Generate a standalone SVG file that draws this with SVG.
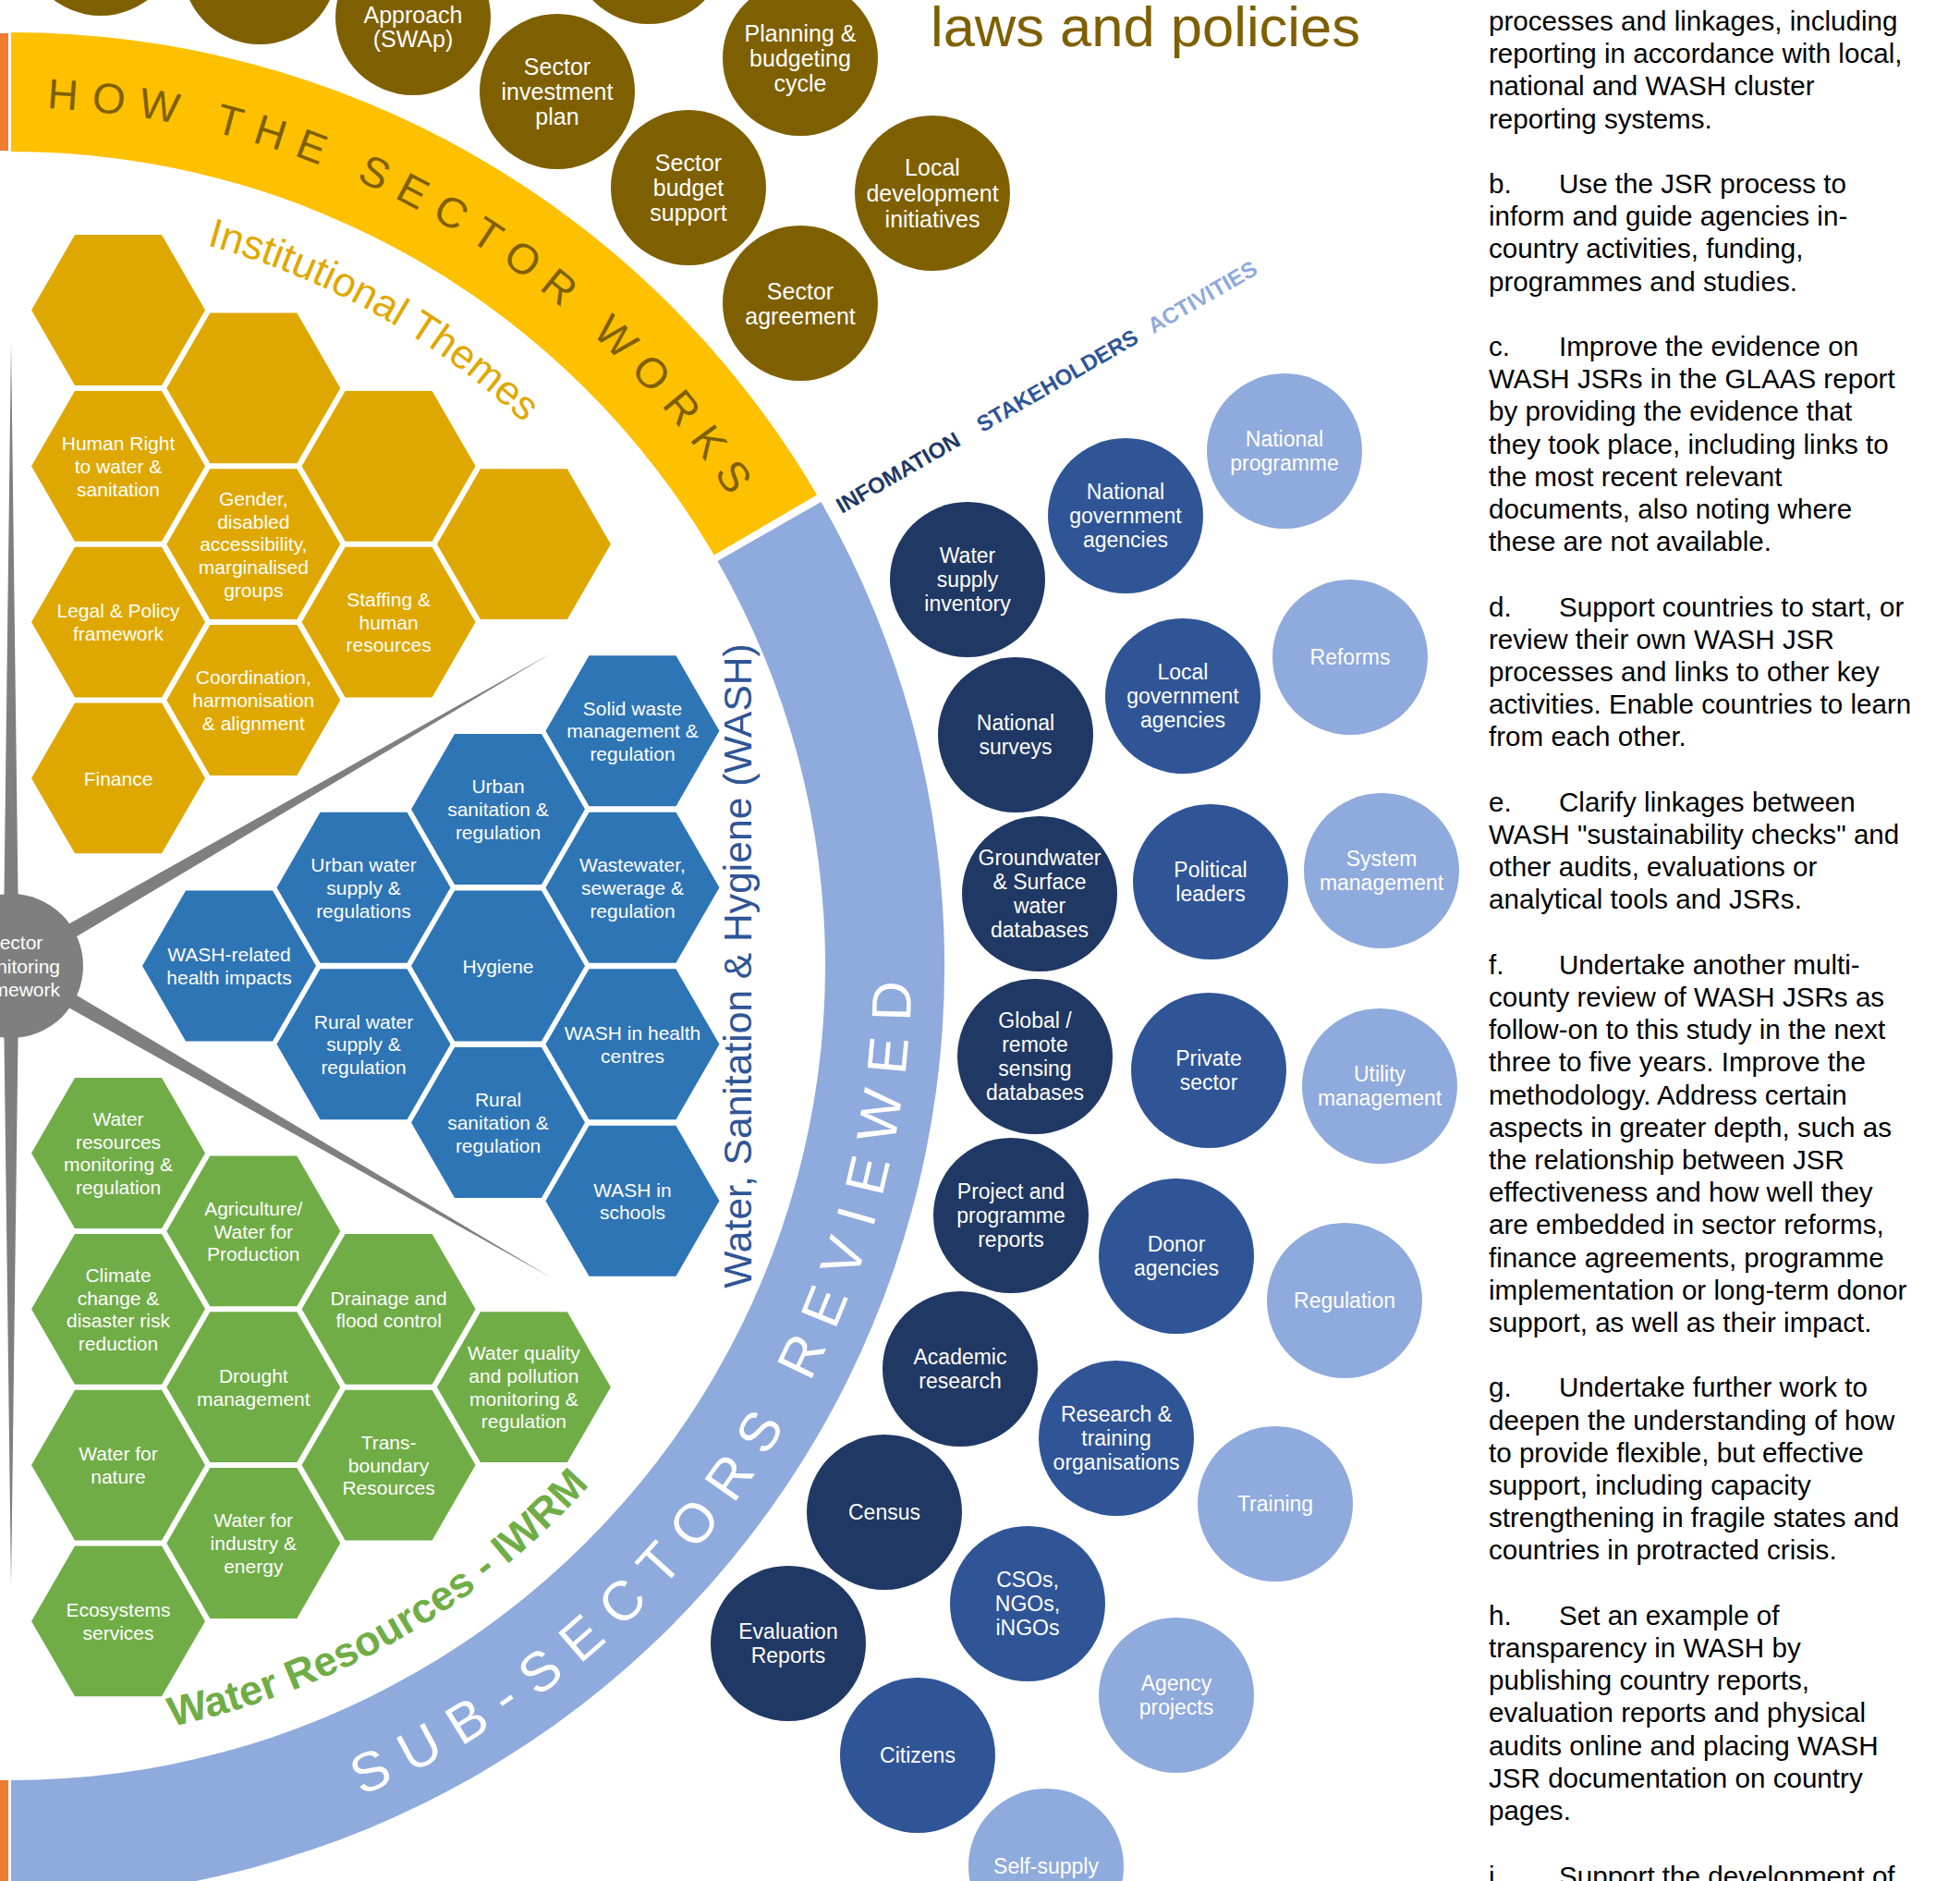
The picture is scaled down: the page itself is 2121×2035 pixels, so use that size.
<svg xmlns="http://www.w3.org/2000/svg" width="2121" height="2035" viewBox="0 0 2121 2035">
<style>
text{font-family:"Liberation Sans",Arial,Helvetica,sans-serif}
.br{fill:#7F6000}
.bt{fill:#fff;font-size:25px;text-anchor:middle}
.hy{fill:#DFA800}
.hb{fill:#2E75B6}
.hg{fill:#70AD47}
.ht{fill:#fff;font-size:21px;text-anchor:middle}
.cd{fill:#203864}
.cm{fill:#2F5597}
.cl{fill:#8FAADC}
.ct{fill:#fff;font-size:23px;text-anchor:middle}
.rt{fill:#000;font-size:29.6px}
.sp{fill:#7F7F7F}
</style>
<defs>
<polygon id="hx" points="94,0 47,81.4 -47,81.4 -94,0 -47,-81.4 47,-81.4"/>
<path id="howPath" d="M12,116.5 A928.5,928.5 0 0,1 816.1,580.75" fill="none"/>
<path id="instPath" d="M12,237 A808,808 0 0,1 711.7,641" fill="none"/>
<path id="subPath" d="M12,2019.5 A974.5,974.5 0 0,0 855.9,557.75" fill="none"/>
<path id="iwrmPath" d="M12,1886 A841,841 0 0,0 740.3,624.5" fill="none"/>
</defs>
<rect width="2121" height="2035" fill="#fff"/>

<g id="bands">
<rect x="0" y="36" width="9" height="127" fill="#ED7D31"/>
<rect x="0" y="1926" width="9" height="109" fill="#ED7D31"/>
<path d="M12,35 A1010,1010 0 0,1 884,535.4 L772.7,600.5 A881,881 0 0,0 12,164 Z" fill="#FFC000"/>
<path d="M888.5,543 A1010,1010 0 0,1 12,2055 L12,1926 A881,881 0 0,0 776.5,607.1 Z" fill="#8FAADC"/>
<text font-size="46" fill="#7F6000" letter-spacing="14.5"><textPath href="#howPath" startOffset="38.6">HOW THE SECTOR WORKS</textPath></text>
<text font-size="60" fill="#fff" letter-spacing="18.7"><textPath href="#subPath" startOffset="389">SUB-SECTORS REVIEWED</textPath></text>
</g>

<g id="labels">
<text x="1007" y="50" font-size="61.5" fill="#7F6000">laws and policies</text>
<text font-size="44.5" fill="#DFA800"><textPath href="#instPath" startOffset="214">Institutional Themes</textPath></text>
<text font-size="45" font-weight="bold" fill="#70AD47"><textPath href="#iwrmPath" startOffset="175">Water Resources - IWRM</textPath></text>
<text transform="translate(813,1045) rotate(-90)" text-anchor="middle" font-size="42.6" fill="#2F5597">Water, Sanitation &amp; Hygiene (WASH)</text>
<text transform="translate(911,556) rotate(-30)" font-size="24" font-weight="bold" fill="#203864">INFOMATION</text>
<text transform="translate(1063,468.2) rotate(-30)" font-size="24" font-weight="bold" fill="#2F5597">STAKEHOLDERS</text>
<text transform="translate(1248,361.4) rotate(-30)" font-size="24" font-weight="bold" fill="#8FAADC">ACTIVITIES</text>
</g>

<g id="connectors">
<polygon class="sp" points="12,370 20.5,1045 3.5,1045"/>
<polygon class="sp" points="12,1717 20.5,1045 3.5,1045"/>
<polygon class="sp" points="596,707 16.5,1052.8 7.5,1037.2"/>
<polygon class="sp" points="596,1382 7.5,1052.8 16.5,1037.2"/>
</g>

<g id="monitoring">
<circle cx="12" cy="1045" r="78" fill="#7F7F7F"/>
<text class="ht" x="16" y="1027"><tspan x="16">Sector</tspan><tspan x="16" dy="25.5">monitoring</tspan><tspan x="16" dy="25.5">framework</tspan></text>
</g>

<g id="brown-circles">
<g id="b1"><circle class="br" cx="109" cy="-67" r="84"/></g>
<g id="b2"><circle class="br" cx="281" cy="-36" r="84"/></g>
<g id="b3"><circle class="br" cx="447" cy="19" r="84"/><text class="bt" y="25"><tspan x="447">Approach</tspan><tspan x="447" y="51">(SWAp)</tspan></text></g>
<g id="b4"><circle class="br" cx="702" cy="-58" r="84"/></g>
<g id="b5"><circle class="br" cx="866" cy="63" r="84"/><text class="bt" y="45"><tspan x="866">Planning &amp;</tspan><tspan x="866" dy="27">budgeting</tspan><tspan x="866" dy="27">cycle</tspan></text></g>
<g id="b6"><circle class="br" cx="603" cy="99" r="84"/><text class="bt" y="81"><tspan x="603">Sector</tspan><tspan x="603" dy="27">investment</tspan><tspan x="603" dy="27">plan</tspan></text></g>
<g id="b7"><circle class="br" cx="745" cy="203" r="84"/><text class="bt" y="185"><tspan x="745">Sector</tspan><tspan x="745" dy="27">budget</tspan><tspan x="745" dy="27">support</tspan></text></g>
<g id="b8"><circle class="br" cx="866" cy="328" r="84"/><text class="bt" y="323.5"><tspan x="866">Sector</tspan><tspan x="866" dy="27">agreement</tspan></text></g>
<g id="b9"><circle class="br" cx="1009" cy="209" r="84"/><text class="bt" y="190"><tspan x="1009">Local</tspan><tspan x="1009" dy="28">development</tspan><tspan x="1009" dy="28">initiatives</tspan></text></g>
</g>

<g id="institutional-hexes">
<g id="y1"><use href="#hx" class="hy" x="128" y="335.5"/></g>
<g id="y2"><use href="#hx" class="hy" x="128" y="504.3"/><text class="ht" y="487.2"><tspan x="128">Human Right</tspan><tspan x="128" dy="24.7">to water &amp;</tspan><tspan x="128" dy="24.7">sanitation</tspan></text></g>
<g id="y3"><use href="#hx" class="hy" x="128" y="673.1"/><text class="ht" y="668.35"><tspan x="128">Legal &amp; Policy</tspan><tspan x="128" dy="24.7">framework</tspan></text></g>
<g id="y4"><use href="#hx" class="hy" x="128" y="841.9"/><text class="ht" x="128" y="849.5">Finance</text></g>
<g id="y5"><use href="#hx" class="hy" x="274.3" y="419.9"/></g>
<g id="y6"><use href="#hx" class="hy" x="274.3" y="588.7"/><text class="ht" y="546.9"><tspan x="274.3">Gender,</tspan><tspan x="274.3" dy="24.7">disabled</tspan><tspan x="274.3" dy="24.7">accessibility,</tspan><tspan x="274.3" dy="24.7">marginalised</tspan><tspan x="274.3" dy="24.7">groups</tspan></text></g>
<g id="y7"><use href="#hx" class="hy" x="274.3" y="757.5"/><text class="ht" y="740.4"><tspan x="274.3">Coordination,</tspan><tspan x="274.3" dy="24.7">harmonisation</tspan><tspan x="274.3" dy="24.7">&amp; alignment</tspan></text></g>
<g id="y8"><use href="#hx" class="hy" x="420.6" y="504.3"/></g>
<g id="y9"><use href="#hx" class="hy" x="420.6" y="673.1"/><text class="ht" y="656"><tspan x="420.6">Staffing &amp;</tspan><tspan x="420.6" dy="24.7">human</tspan><tspan x="420.6" dy="24.7">resources</tspan></text></g>
<g id="y10"><use href="#hx" class="hy" x="566.9" y="588.7"/></g>
</g>

<g id="wash-hexes">
<g id="w1"><use href="#hx" class="hb" x="248" y="1045"/><text class="ht" y="1040.25"><tspan x="248">WASH-related</tspan><tspan x="248" dy="24.7">health impacts</tspan></text></g>
<g id="w2"><use href="#hx" class="hb" x="393.5" y="960.25"/><text class="ht" y="943.15"><tspan x="393.5">Urban water</tspan><tspan x="393.5" dy="24.7">supply &amp;</tspan><tspan x="393.5" dy="24.7">regulations</tspan></text></g>
<g id="w3"><use href="#hx" class="hb" x="393.5" y="1129.75"/><text class="ht" y="1112.65"><tspan x="393.5">Rural water</tspan><tspan x="393.5" dy="24.7">supply &amp;</tspan><tspan x="393.5" dy="24.7">regulation</tspan></text></g>
<g id="w4"><use href="#hx" class="hb" x="539" y="875.5"/><text class="ht" y="858.4"><tspan x="539">Urban</tspan><tspan x="539" dy="24.7">sanitation &amp;</tspan><tspan x="539" dy="24.7">regulation</tspan></text></g>
<g id="w5"><use href="#hx" class="hb" x="539" y="1045"/><text class="ht" x="539" y="1052.6">Hygiene</text></g>
<g id="w6"><use href="#hx" class="hb" x="539" y="1214.5"/><text class="ht" y="1197.4"><tspan x="539">Rural</tspan><tspan x="539" dy="24.7">sanitation &amp;</tspan><tspan x="539" dy="24.7">regulation</tspan></text></g>
<g id="w7"><use href="#hx" class="hb" x="684.5" y="790.75"/><text class="ht" y="773.65"><tspan x="684.5">Solid waste</tspan><tspan x="684.5" dy="24.7">management &amp;</tspan><tspan x="684.5" dy="24.7">regulation</tspan></text></g>
<g id="w8"><use href="#hx" class="hb" x="684.5" y="960.25"/><text class="ht" y="943.15"><tspan x="684.5">Wastewater,</tspan><tspan x="684.5" dy="24.7">sewerage &amp;</tspan><tspan x="684.5" dy="24.7">regulation</tspan></text></g>
<g id="w9"><use href="#hx" class="hb" x="684.5" y="1129.75"/><text class="ht" y="1125"><tspan x="684.5">WASH in health</tspan><tspan x="684.5" dy="24.7">centres</tspan></text></g>
<g id="w10"><use href="#hx" class="hb" x="684.5" y="1299.25"/><text class="ht" y="1294.5"><tspan x="684.5">WASH in</tspan><tspan x="684.5" dy="24.7">schools</tspan></text></g>
</g>

<g id="iwrm-hexes">
<g id="g1"><use href="#hx" class="hg" x="128" y="1247.5"/><text class="ht" y="1218.05"><tspan x="128">Water</tspan><tspan x="128" dy="24.7">resources</tspan><tspan x="128" dy="24.7">monitoring &amp;</tspan><tspan x="128" dy="24.7">regulation</tspan></text></g>
<g id="g2"><use href="#hx" class="hg" x="274.3" y="1331.9"/><text class="ht" y="1314.8"><tspan x="274.3">Agriculture/</tspan><tspan x="274.3" dy="24.7">Water for</tspan><tspan x="274.3" dy="24.7">Production</tspan></text></g>
<g id="g3"><use href="#hx" class="hg" x="128" y="1416.3"/><text class="ht" y="1386.85"><tspan x="128">Climate</tspan><tspan x="128" dy="24.7">change &amp;</tspan><tspan x="128" dy="24.7">disaster risk</tspan><tspan x="128" dy="24.7">reduction</tspan></text></g>
<g id="g4"><use href="#hx" class="hg" x="420.6" y="1416.3"/><text class="ht" y="1411.55"><tspan x="420.6">Drainage and</tspan><tspan x="420.6" dy="24.7">flood control</tspan></text></g>
<g id="g5"><use href="#hx" class="hg" x="274.3" y="1500.7"/><text class="ht" y="1495.95"><tspan x="274.3">Drought</tspan><tspan x="274.3" dy="24.7">management</tspan></text></g>
<g id="g6"><use href="#hx" class="hg" x="566.9" y="1500.7"/><text class="ht" y="1471.25"><tspan x="566.9">Water quality</tspan><tspan x="566.9" dy="24.7">and pollution</tspan><tspan x="566.9" dy="24.7">monitoring &amp;</tspan><tspan x="566.9" dy="24.7">regulation</tspan></text></g>
<g id="g7"><use href="#hx" class="hg" x="128" y="1585.1"/><text class="ht" y="1580.35"><tspan x="128">Water for</tspan><tspan x="128" dy="24.7">nature</tspan></text></g>
<g id="g8"><use href="#hx" class="hg" x="420.6" y="1585.1"/><text class="ht" y="1568"><tspan x="420.6">Trans-</tspan><tspan x="420.6" dy="24.7">boundary</tspan><tspan x="420.6" dy="24.7">Resources</tspan></text></g>
<g id="g9"><use href="#hx" class="hg" x="274.3" y="1669.5"/><text class="ht" y="1652.4"><tspan x="274.3">Water for</tspan><tspan x="274.3" dy="24.7">industry &amp;</tspan><tspan x="274.3" dy="24.7">energy</tspan></text></g>
<g id="g10"><use href="#hx" class="hg" x="128" y="1753.9"/><text class="ht" y="1749.15"><tspan x="128">Ecosystems</tspan><tspan x="128" dy="24.7">services</tspan></text></g>
</g>

<g id="information-circles">
<g id="i1"><circle class="cd" cx="1047" cy="627" r="84"/><text class="ct" y="609.3"><tspan x="1047">Water</tspan><tspan x="1047" dy="26">supply</tspan><tspan x="1047" dy="26">inventory</tspan></text></g>
<g id="i2"><circle class="cd" cx="1099" cy="795" r="84"/><text class="ct" y="790.3"><tspan x="1099">National</tspan><tspan x="1099" dy="26">surveys</tspan></text></g>
<g id="i3"><circle class="cd" cx="1125" cy="967" r="84"/><text class="ct" y="936.3"><tspan x="1125">Groundwater</tspan><tspan x="1125" dy="26">&amp; Surface</tspan><tspan x="1125" dy="26">water</tspan><tspan x="1125" dy="26">databases</tspan></text></g>
<g id="i4"><circle class="cd" cx="1120" cy="1143" r="84"/><text class="ct" y="1112.3"><tspan x="1120">Global /</tspan><tspan x="1120" dy="26">remote</tspan><tspan x="1120" dy="26">sensing</tspan><tspan x="1120" dy="26">databases</tspan></text></g>
<g id="i5"><circle class="cd" cx="1094" cy="1315" r="84"/><text class="ct" y="1297.3"><tspan x="1094">Project and</tspan><tspan x="1094" dy="26">programme</tspan><tspan x="1094" dy="26">reports</tspan></text></g>
<g id="i6"><circle class="cd" cx="1039" cy="1481" r="84"/><text class="ct" y="1476.3"><tspan x="1039">Academic</tspan><tspan x="1039" dy="26">research</tspan></text></g>
<g id="i7"><circle class="cd" cx="957" cy="1636" r="84"/><text class="ct" x="957" y="1644.3">Census</text></g>
<g id="i8"><circle class="cd" cx="853" cy="1778" r="84"/><text class="ct" y="1773.3"><tspan x="853">Evaluation</tspan><tspan x="853" dy="26">Reports</tspan></text></g>
</g>

<g id="stakeholder-circles">
<g id="s1"><circle class="cm" cx="1218" cy="558" r="84"/><text class="ct" y="540.3"><tspan x="1218">National</tspan><tspan x="1218" dy="26">government</tspan><tspan x="1218" dy="26">agencies</tspan></text></g>
<g id="s2"><circle class="cm" cx="1280" cy="753" r="84"/><text class="ct" y="735.3"><tspan x="1280">Local</tspan><tspan x="1280" dy="26">government</tspan><tspan x="1280" dy="26">agencies</tspan></text></g>
<g id="s3"><circle class="cm" cx="1310" cy="954" r="84"/><text class="ct" y="949.3"><tspan x="1310">Political</tspan><tspan x="1310" dy="26">leaders</tspan></text></g>
<g id="s4"><circle class="cm" cx="1308" cy="1158" r="84"/><text class="ct" y="1153.3"><tspan x="1308">Private</tspan><tspan x="1308" dy="26">sector</tspan></text></g>
<g id="s5"><circle class="cm" cx="1273" cy="1359" r="84"/><text class="ct" y="1354.3"><tspan x="1273">Donor</tspan><tspan x="1273" dy="26">agencies</tspan></text></g>
<g id="s6"><circle class="cm" cx="1208" cy="1556" r="84"/><text class="ct" y="1538.3"><tspan x="1208">Research &amp;</tspan><tspan x="1208" dy="26">training</tspan><tspan x="1208" dy="26">organisations</tspan></text></g>
<g id="s7"><circle class="cm" cx="1112" cy="1735" r="84"/><text class="ct" y="1717.3"><tspan x="1112">CSOs,</tspan><tspan x="1112" dy="26">NGOs,</tspan><tspan x="1112" dy="26">iNGOs</tspan></text></g>
<g id="s8"><circle class="cm" cx="993" cy="1899" r="84"/><text class="ct" x="993" y="1907.3">Citizens</text></g>
</g>

<g id="activity-circles">
<g id="a1"><circle class="cl" cx="1390" cy="488" r="84"/><text class="ct" y="483.3"><tspan x="1390">National</tspan><tspan x="1390" dy="26">programme</tspan></text></g>
<g id="a2"><circle class="cl" cx="1461" cy="711" r="84"/><text class="ct" x="1461" y="719.3">Reforms</text></g>
<g id="a3"><circle class="cl" cx="1495" cy="942" r="84"/><text class="ct" y="937.3"><tspan x="1495">System</tspan><tspan x="1495" dy="26">management</tspan></text></g>
<g id="a4"><circle class="cl" cx="1493" cy="1175" r="84"/><text class="ct" y="1170.3"><tspan x="1493">Utility</tspan><tspan x="1493" dy="26">management</tspan></text></g>
<g id="a5"><circle class="cl" cx="1455" cy="1407" r="84"/><text class="ct" x="1455" y="1415.3">Regulation</text></g>
<g id="a6"><circle class="cl" cx="1380" cy="1627" r="84"/><text class="ct" x="1380" y="1635.3">Training</text></g>
<g id="a7"><circle class="cl" cx="1273" cy="1834" r="84"/><text class="ct" y="1829.3"><tspan x="1273">Agency</tspan><tspan x="1273" dy="26">projects</tspan></text></g>
<g id="a8"><circle class="cl" cx="1132" cy="2019" r="84"/><text class="ct" x="1132" y="2027.3">Self-supply</text></g>
</g>

<g id="recommendations">
<text class="rt">
<tspan x="1611" y="33">processes and linkages, including</tspan>
<tspan x="1611" y="68.2">reporting in accordance with local,</tspan>
<tspan x="1611" y="103.4">national and WASH cluster</tspan>
<tspan x="1611" y="138.6">reporting systems.</tspan>
<tspan x="1611" y="209">b.</tspan><tspan x="1687" y="209">Use the JSR process to</tspan>
<tspan x="1611" y="244.2">inform and guide agencies in-</tspan>
<tspan x="1611" y="279.4">country activities, funding,</tspan>
<tspan x="1611" y="314.6">programmes and studies.</tspan>
<tspan x="1611" y="385">c.</tspan><tspan x="1687" y="385">Improve the evidence on</tspan>
<tspan x="1611" y="420.2">WASH JSRs in the GLAAS report</tspan>
<tspan x="1611" y="455.4">by providing the evidence that</tspan>
<tspan x="1611" y="490.6">they took place, including links to</tspan>
<tspan x="1611" y="525.8">the most recent relevant</tspan>
<tspan x="1611" y="561">documents, also noting where</tspan>
<tspan x="1611" y="596.2">these are not available.</tspan>
<tspan x="1611" y="666.6">d.</tspan><tspan x="1687" y="666.6">Support countries to start, or</tspan>
<tspan x="1611" y="701.8">review their own WASH JSR</tspan>
<tspan x="1611" y="737">processes and links to other key</tspan>
<tspan x="1611" y="772.2">activities. Enable countries to learn</tspan>
<tspan x="1611" y="807.4">from each other.</tspan>
<tspan x="1611" y="877.8">e.</tspan><tspan x="1687" y="877.8">Clarify linkages between</tspan>
<tspan x="1611" y="913">WASH "sustainability checks" and</tspan>
<tspan x="1611" y="948.2">other audits, evaluations or</tspan>
<tspan x="1611" y="983.4">analytical tools and JSRs.</tspan>
<tspan x="1611" y="1053.8">f.</tspan><tspan x="1687" y="1053.8">Undertake another multi-</tspan>
<tspan x="1611" y="1089">county review of WASH JSRs as</tspan>
<tspan x="1611" y="1124.2">follow-on to this study in the next</tspan>
<tspan x="1611" y="1159.4">three to five years. Improve the</tspan>
<tspan x="1611" y="1194.6">methodology. Address certain</tspan>
<tspan x="1611" y="1229.8">aspects in greater depth, such as</tspan>
<tspan x="1611" y="1265">the relationship between JSR</tspan>
<tspan x="1611" y="1300.2">effectiveness and how well they</tspan>
<tspan x="1611" y="1335.4">are embedded in sector reforms,</tspan>
<tspan x="1611" y="1370.6">finance agreements, programme</tspan>
<tspan x="1611" y="1405.8">implementation or long-term donor</tspan>
<tspan x="1611" y="1441">support, as well as their impact.</tspan>
<tspan x="1611" y="1511.4">g.</tspan><tspan x="1687" y="1511.4">Undertake further work to</tspan>
<tspan x="1611" y="1546.6">deepen the understanding of how</tspan>
<tspan x="1611" y="1581.8">to provide flexible, but effective</tspan>
<tspan x="1611" y="1617">support, including capacity</tspan>
<tspan x="1611" y="1652.2">strengthening in fragile states and</tspan>
<tspan x="1611" y="1687.4">countries in protracted crisis.</tspan>
<tspan x="1611" y="1757.8">h.</tspan><tspan x="1687" y="1757.8">Set an example of</tspan>
<tspan x="1611" y="1793">transparency in WASH by</tspan>
<tspan x="1611" y="1828.2">publishing country reports,</tspan>
<tspan x="1611" y="1863.4">evaluation reports and physical</tspan>
<tspan x="1611" y="1898.6">audits online and placing WASH</tspan>
<tspan x="1611" y="1933.8">JSR documentation on country</tspan>
<tspan x="1611" y="1969">pages.</tspan>
<tspan x="1611" y="2040">i.</tspan><tspan x="1687" y="2040">Support the development of</tspan>
</text>
</g>
</svg>
